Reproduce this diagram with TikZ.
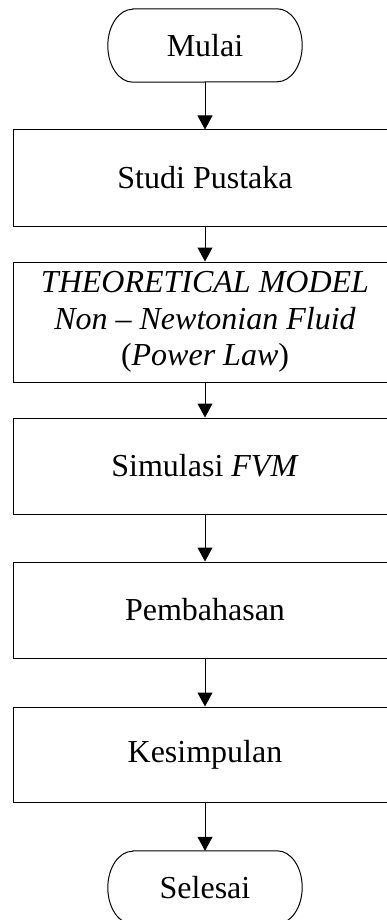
\documentclass[tikz,border=0pt]{standalone}
\usepackage{fontspec}
\setmainfont{Liberation Serif}
\usetikzlibrary{arrows.meta}
\tikzset{
  txt/.style={font=\fontsize{32}{36.7}\selectfont, align=center, inner sep=0pt},
  box/.style={txt, draw, line width=1pt, minimum width=384pt},
  pill/.style={txt, minimum width=194pt, minimum height=73pt},
  pillline/.style={line width=1pt},
  arr/.style={line width=1pt, -{Triangle[width=15pt,length=14pt]}}
}
\newcommand\pillpath[1]{%
  \draw[pillline] ([xshift=25pt]#1.north west) -- ([xshift=-25pt]#1.north east)
    arc[start angle=90,end angle=-90,x radius=25pt,y radius=36.5pt]
    -- ([xshift=25pt]#1.south west)
    arc[start angle=270,end angle=90,x radius=25pt,y radius=36.5pt] -- cycle;}
\begin{document}
\begin{tikzpicture}
  \useasboundingbox (0,0) rectangle (387pt,-920pt);
  \clip (0,0) rectangle (387pt,-920pt);
  \node[pill] (start) at (205pt,-45.5pt) {Mulai};
  \pillpath{start}
  \node[box, minimum height=96pt] (studi) at (205pt,-178pt) {Studi Pustaka};
  \node[box, minimum height=120pt] (theory) at (205pt,-322pt)
    {\textit{THEORETICAL MODEL}\\ \textit{Non -- Newtonian Fluid}\\ (\textit{Power Law})};
  \node[box, minimum height=96pt] (sim) at (205pt,-466pt) {Simulasi \textit{FVM}};
  \node[box, minimum height=96pt] (bahas) at (205pt,-610pt) {Pembahasan};
  \node[box, minimum height=95pt] (simpul) at (205pt,-754.5pt) {Kesimpulan};
  \node[pill] (end) at (205pt,-887.5pt) {Selesai};
  \pillpath{end}
  \draw[arr] (start.south) -- (studi.north);
  \draw[arr] (studi.south) -- (theory.north);
  \draw[arr] (theory.south) -- (sim.north);
  \draw[arr] (sim.south) -- (bahas.north);
  \draw[arr] (bahas.south) -- (simpul.north);
  \draw[arr] (simpul.south) -- (end.north);
\end{tikzpicture}
\end{document}
